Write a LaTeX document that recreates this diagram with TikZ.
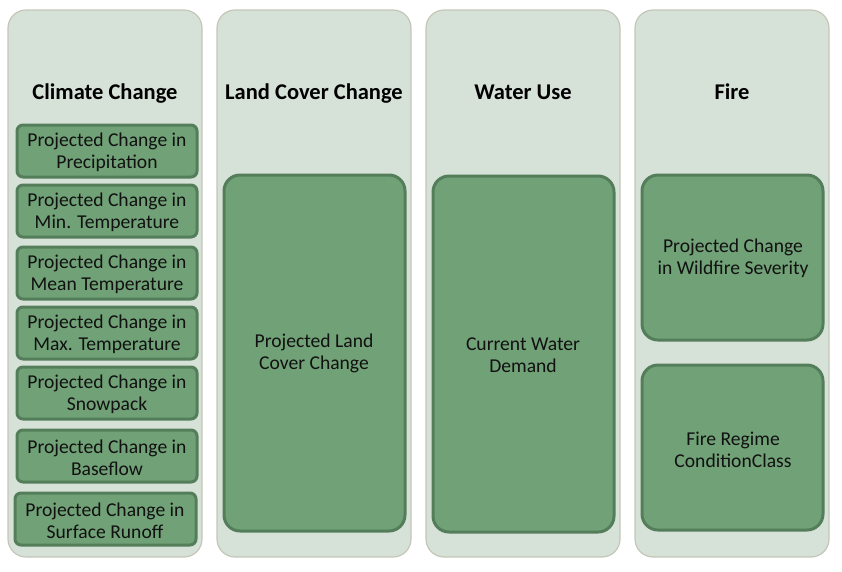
\documentclass[tikz,border=0pt]{standalone}
\usepackage{fontspec}
\setmainfont{Carlito}
\definecolor{panelfill}{HTML}{D6E1D8}
\definecolor{paneldraw}{HTML}{C4C6B8}
\definecolor{boxfill}{HTML}{71A177}
\definecolor{boxdraw}{HTML}{547E5A}
\definecolor{txt}{HTML}{111111}
\begin{document}
\begin{tikzpicture}[x=1pt,y=-1pt,
  panel/.style={draw=paneldraw,fill=panelfill,line width=1.2pt,rounded corners=18pt},
  hdr/.style={font=\bfseries\fontsize{22.5}{26}\selectfont,text=black,anchor=base},
  sbox/.style={draw=boxdraw,fill=boxfill,line width=3pt,rounded corners=6pt},
  bbox/.style={draw=boxdraw,fill=boxfill,line width=3pt,rounded corners=16pt},
  lbl/.style={font=\fontsize{19.6}{22}\selectfont,text=txt,align=center,inner sep=0pt,yshift=-1.5pt}]
\useasboundingbox (0,0) rectangle (842,571);
% panels
\draw[panel] (8,10) rectangle (202,557);
\draw[panel] (217,10) rectangle (411,557);
\draw[panel] (426,10) rectangle (620,557);
\draw[panel] (635,10) rectangle (829,557);
% headers
\node[hdr] (h1) at (105,99) {Climate Change};
\node[hdr] (h2) at (314,99) {Land Cover Change};
\node[hdr] (h3) at (523,99) {Water Use};
\node[hdr] (h4) at (732,99) {Fire};
% climate boxes
\draw[sbox] (17,125) rectangle (197,177);
\node[lbl] (c1) at (107,151) {Projected Change in\\Precipitation};
\draw[sbox] (17,185) rectangle (197,237);
\node[lbl] (c2) at (107,211) {Projected Change in\\Min. Temperature};
\draw[sbox] (17,247) rectangle (197,299);
\node[lbl] (c3) at (107,273) {Projected Change in\\Mean Temperature};
\draw[sbox] (17,307) rectangle (197,359);
\node[lbl] (c4) at (107,333) {Projected Change in\\Max. Temperature};
\draw[sbox] (17,367) rectangle (197,419);
\node[lbl] (c5) at (107,393) {Projected Change in\\Snowpack};
\draw[sbox] (17,430) rectangle (197,482);
\node[lbl] (c6) at (107,456) {Projected Change in\\Baseflow};
\draw[sbox] (15,493) rectangle (196,545);
\node[lbl] (c7) at (105,519) {Projected Change in\\Surface Runoff};
% big boxes
\draw[bbox] (224,175) rectangle (405,531);
\node[lbl] (l1) at (314,352) {Projected Land\\Cover Change};
\draw[bbox] (433,176) rectangle (614,532);
\node[lbl] (w1) at (523,354) {Current Water\\Demand};
\draw[bbox] (642,175) rectangle (823,340);
\node[lbl] (f1) at (733,257) {Projected Change\\in Wildfire Severity};
\draw[bbox] (642,365) rectangle (823,530);
\node[lbl] (f2) at (733,448) {Fire Regime\\ConditionClass};
\end{tikzpicture}
\end{document}
